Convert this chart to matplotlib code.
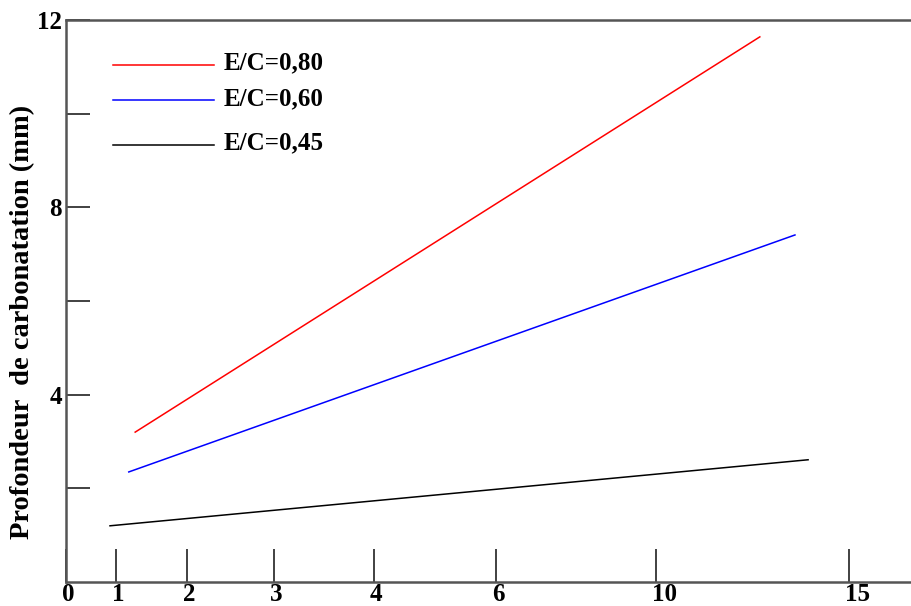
import numpy as np
import matplotlib
matplotlib.use("Agg")
import matplotlib.pyplot as plt
import matplotlib.transforms as mtransforms
from matplotlib.ticker import FixedLocator, NullFormatter

# Time axis: labelled ticks and their (unevenly spaced) positions along the axis
x_ticks = [0, 1, 2, 3, 4, 6, 10, 15]
x_tick_pos = [0, 50, 121, 208, 308, 430, 590, 783]

# Carbonation depth (mm): start and end points of each fitted line
series_labels = ["E/C=0,80", "E/C=0,60", "E/C=0,45"]
series_colors = ["#ff0000", "#0000ff", "#000000"]
t_080 = [1.27, 12.69]
d_080 = [3.20, 11.64]
t_060 = [1.18, 13.60]
d_060 = [2.35, 7.41]
t_045 = [0.88, 13.94]
d_045 = [1.20, 2.61]

y_major = [4, 8, 12]
y_minor = [2, 6, 10]

# extend the mapping linearly past the last tick
ext_t = x_ticks + [25]
ext_p = x_tick_pos + [x_tick_pos[-1] + (x_tick_pos[-1] - x_tick_pos[-2]) / 5 * 10]


def fwd(t):
    return np.interp(t, ext_t, ext_p)


def inv(p):
    return np.interp(p, ext_p, ext_t)


font = {"family": "Liberation Serif", "weight": "bold"}

fig = plt.figure(figsize=(9.11, 6.06), dpi=100)
ax = fig.add_axes([66 / 911, 24 / 606, 1 - 66 / 911, (582 - 20) / 606])
ax.set_xscale("function", functions=(fwd, inv))

for t, d, c in zip([t_080, t_060, t_045], [d_080, d_060, d_045], series_colors):
    ax.plot(t, d, color=c, lw=1.1)

ax.set_xlim(0, inv(911 - 66))
ax.set_ylim(0, 12)

ax.xaxis.set_major_locator(FixedLocator(x_ticks))
ax.set_xticklabels([str(v) for v in x_ticks], fontdict=font, fontsize=18)
ax.xaxis.set_minor_locator(FixedLocator([]))
ax.yaxis.set_major_locator(FixedLocator(y_major))
ax.set_yticklabels([str(v) for v in y_major], fontdict=font, fontsize=18)
ax.yaxis.set_minor_locator(FixedLocator(y_minor))
ax.yaxis.set_minor_formatter(NullFormatter())

ax.tick_params(axis="x", which="major", direction="in", length=24, width=1.3,
               color="#333333", pad=1)
ax.tick_params(axis="y", which="both", direction="in", length=17, width=1.3,
               color="#333333", pad=3)

# x labels start just left of their tick
shift = mtransforms.ScaledTranslation(-4 / 100, 0, fig.dpi_scale_trans)
for lbl in ax.get_xticklabels():
    lbl.set_horizontalalignment("left")
    lbl.set_transform(lbl.get_transform() + shift)

for side in ["left", "bottom", "top"]:
    ax.spines[side].set_color("#555555")
    ax.spines[side].set_linewidth(1.8)
ax.spines["right"].set_visible(False)

ax.set_ylabel("Profondeur  de carbonatation (mm)", fontdict=font, fontsize=20.5)
ax.yaxis.set_label_coords(-0.037, 0.463)

# key: sample line and label for each series
line_y = [65, 100, 145]
text_y = [63, 99, 143]
for lab, c, ly, ty in zip(series_labels, series_colors, line_y, text_y):
    x0 = (113 - 66) / (911 - 66)
    x1 = (214 - 66) / (911 - 66)
    ya = (606 - ly - 24) / (582 - 20)
    yt = (606 - ty - 24) / (582 - 20)
    ax.plot([x0, x1], [ya, ya], color=c, lw=1.1, transform=ax.transAxes)
    ax.text((224 - 66) / (911 - 66), yt, lab, transform=ax.transAxes,
            fontdict=font, fontsize=18, va="center", ha="left")

fig.savefig("out.png", dpi=100)
